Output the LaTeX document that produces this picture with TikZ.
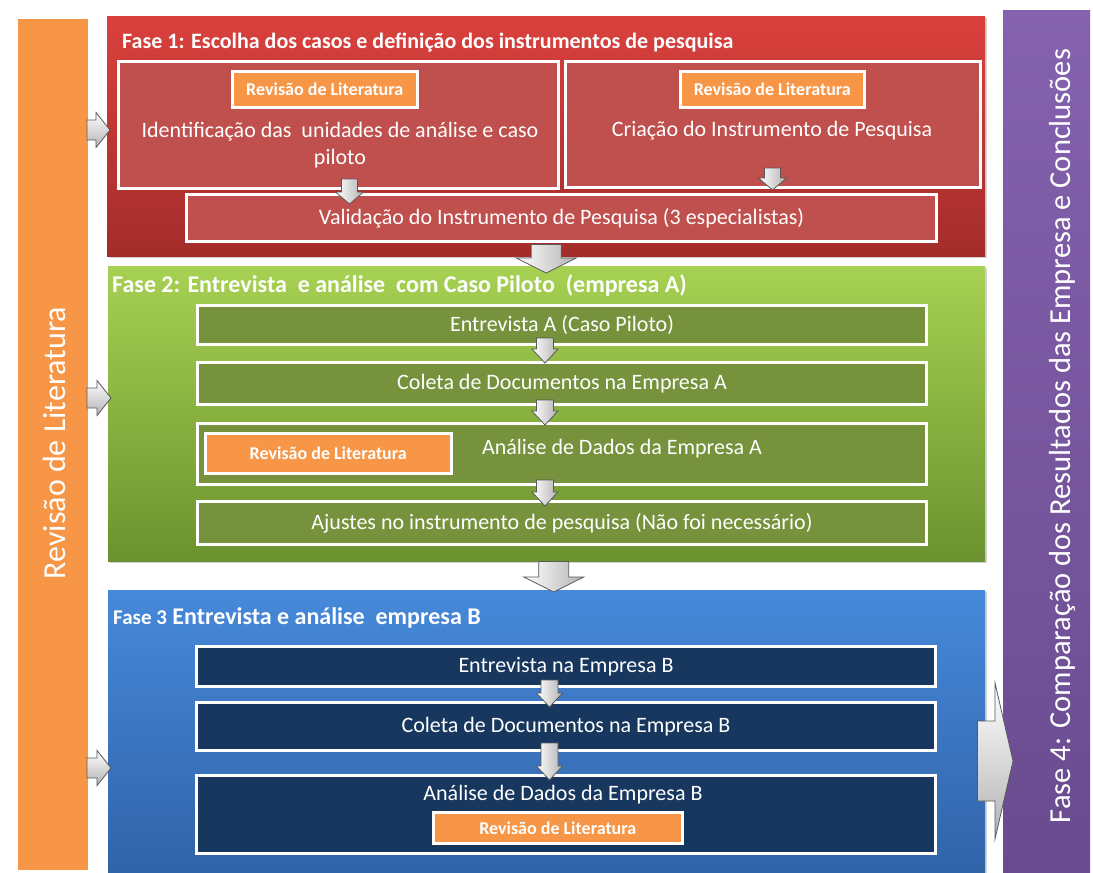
\documentclass[tikz,border=0pt]{standalone}
\usepackage{fontspec}
\setmainfont{Carlito}
\usetikzlibrary{positioning,calc,shadows}

\definecolor{litorange}{HTML}{F79646}
\definecolor{redtop}{HTML}{DA413D}
\definecolor{redbot}{HTML}{A32C2A}
\definecolor{redin}{HTML}{C0504D}
\definecolor{greentop}{HTML}{A6D152}
\definecolor{greenbot}{HTML}{6B922F}
\definecolor{greenin}{HTML}{76923C}
\definecolor{bluetop}{HTML}{4689DA}
\definecolor{bluebot}{HTML}{3163A8}
\definecolor{bluein}{HTML}{17375E}
\definecolor{purpletop}{HTML}{8462AE}
\definecolor{purplebot}{HTML}{6A4B8F}

\newcommand{\stepfont}{\fontsize{22}{27}\selectfont}
\newcommand{\revfont}{\fontsize{18}{21}\selectfont\bfseries}
\newcommand{\titlefont}{\fontsize{22}{25}\selectfont\bfseries}

% block arrows between boxes: from, to, shaft half width, head half width, head length
\newcommand{\blockdown}[5]{\path[bararrow] let \p1=(#1), \p2=(#2) in (\x1-#3,\y1) -- (\x1+#3,\y1) -- (\x1+#3,\y2+#5) -- (\x1+#4,\y2+#5) -- (\x1,\y2) -- (\x1-#4,\y2+#5) -- (\x1-#3,\y2+#5) -- cycle;}
\newcommand{\blockright}[5]{\path[sidearrow] let \p1=(#1), \p2=(#2) in (\x1,\y1+#3) -- (\x2-#5,\y1+#3) -- (\x2-#5,\y1+#4) -- (\x2,\y1) -- (\x2-#5,\y1-#4) -- (\x2-#5,\y1-#3) -- (\x1,\y1-#3) -- cycle;}

\begin{document}
\begin{tikzpicture}[x=1pt,y=-1pt,
  phase/.style={rectangle,inner sep=0pt,anchor=north west,drop shadow={shadow xshift=2pt,shadow yshift=-2pt,opacity=.35}},
  stepbox/.style={rectangle,inner sep=0pt,anchor=north west,draw=white,line width=3pt,text=white,font=\stepfont,drop shadow={shadow xshift=1.5pt,shadow yshift=-1.5pt,opacity=.3}},
  revbox/.style={rectangle,inner sep=0pt,anchor=north west,fill=litorange,draw=white,line width=2.5pt,text=white,font=\revfont},
  phasetitle/.style={anchor=base west,inner sep=0pt,text=white,font=\titlefont},
  steptext/.style={inner sep=0pt,text=white,font=\stepfont,align=center},
  sidetext/.style={inner sep=0pt,text=white,rotate=90,font=\fontsize{32}{36}\selectfont},
  bararrow/.style={draw=black!65,line width=.8pt,left color=white,right color=black!30},
  sidearrow/.style={draw=black!65,line width=.8pt,top color=white,bottom color=black!30}]
  \useasboundingbox (0,0) rectangle (1093,873);

  % side bars
  \node[rectangle,inner sep=0pt,anchor=north west,fill=litorange,draw=white,line width=4pt,
    minimum width=74pt,minimum height=855pt,drop shadow={opacity=.15,shadow xshift=1pt,shadow yshift=-1pt}] (litbar) at (14,15) {};
  \node[sidetext] (littext) at (55,443) {Revisão de Literatura};
  \node[rectangle,inner sep=0pt,anchor=north west,top color=purpletop,bottom color=purplebot,
    minimum width=87pt,minimum height=863pt] (fase4) at (1003,10) {};
  \node[sidetext,font=\fontsize{30.5}{34}\selectfont] (f4text) at (1062,436) {Fase 4: Comparação dos Resultados das Empresa e Conclusões};

  % fase 1
  \node[phase,top color=redtop,bottom color=redbot,minimum width=878pt,minimum height=240pt] (fase1) at (107,16) {};
  \node[phasetitle] (t1) at (122,48) {Fase 1: Escolha dos casos e definição dos instrumentos de pesquisa};
  \node[stepbox,fill=redin,minimum width=440pt,minimum height=127pt] (idbox) at (117,60) {};
  \node[stepbox,fill=redin,minimum width=415pt,minimum height=126pt] (crbox) at (564,60) {};
  \node[revbox,minimum width=185pt,minimum height=36pt] (rev1) at (231,70) {Revisão de Literatura};
  \node[revbox,minimum width=184pt,minimum height=36pt] (rev2) at (679,70) {Revisão de Literatura};
  \node[steptext] (idtext) at (340,145) {Identificação das\ \ unidades de análise e caso\\piloto};
  \node[steptext] (crtext) at (772,131) {Criação do Instrumento de Pesquisa};
  \node[stepbox,fill=redin,minimum width=750pt,minimum height=47pt] (valbox) at (185,193) {Validação do Instrumento de Pesquisa (3 especialistas)};

  % fase 2
  \node[phase,top color=greentop,bottom color=greenbot,minimum width=877pt,minimum height=295pt] (fase2) at (108,266) {};
  \node[phasetitle,font=\fontsize{24}{27}\selectfont\bfseries] (t2) at (112,292) {Fase 2: Entrevista\ \ e análise\ \ com Caso Piloto\ \ (empresa A)};
  \node[stepbox,fill=greenin,minimum width=729pt,minimum height=39pt] (entA) at (196,304) {Entrevista A (Caso Piloto)};
  \node[stepbox,fill=greenin,minimum width=729pt,minimum height=42pt] (colA) at (196,361) {Coleta de Documentos na Empresa A};
  \node[stepbox,fill=greenin,minimum width=729pt,minimum height=61pt] (anaA) at (196,422) {};
  \node[revbox,minimum width=246pt,minimum height=40pt] (rev3) at (204,432) {Revisão de Literatura};
  \node[steptext] (anaAtext) at (622,449) {Análise de Dados da Empresa A};
  \node[stepbox,fill=greenin,minimum width=729pt,minimum height=43pt] (ajuA) at (196,500) {Ajustes no instrumento de pesquisa (Não foi necessário)};

  % fase 3
  \node[phase,top color=bluetop,bottom color=bluebot,minimum width=877pt,minimum height=283pt] (fase3) at (108,590) {};
  \node[phasetitle,font=\fontsize{24}{27}\selectfont\bfseries] (t3) at (113,624) {{\fontsize{21}{24}\selectfont Fase 3} Entrevista e análise\ \ empresa B};
  \node[stepbox,fill=bluein,minimum width=739pt,minimum height=40pt] (entB) at (195,645) {Entrevista na Empresa B};
  \node[stepbox,fill=bluein,minimum width=739pt,minimum height=48pt] (colB) at (195,701) {Coleta de Documentos na Empresa B};
  \node[stepbox,fill=bluein,minimum width=739pt,minimum height=78pt] (anaB) at (195,774) {};
  \node[steptext] (anaBtext) at (563,795) {Análise de Dados da Empresa B};
  \node[revbox,minimum width=249pt,minimum height=31pt] (rev4) at (432,811) {Revisão de Literatura};

  % arrows inside fase 1
  \blockdown{[xshift=11pt,yshift=11pt]idbox.south}{[yshift=-11pt]valbox.north}{8pt}{14pt}{12pt}
  \blockdown{[xshift=-0.5pt,yshift=21pt]crbox.south}{[yshift=3pt]valbox.north}{8pt}{14pt}{12pt}
  % arrows between phases
  \blockdown{[yshift=12pt]fase1.south}{[yshift=-7pt]fase2.north}{15pt}{30pt}{15pt}
  \blockdown{[xshift=7pt,yshift=0pt]fase2.south}{[yshift=-2pt]fase3.north}{15pt}{30pt}{15pt}
  % arrows inside fase 2
  \blockdown{[xshift=-17pt,yshift=8pt]entA.south}{[yshift=-2pt]colA.north}{8.5pt}{13pt}{14pt}
  \blockdown{[xshift=-17pt,yshift=6pt]colA.south}{[yshift=-3pt]anaA.north}{8.5pt}{13pt}{14pt}
  \blockdown{[xshift=-17pt,yshift=6pt]anaA.south}{[yshift=-6pt]ajuA.north}{8.5pt}{13pt}{14pt}
  % arrows inside fase 3
  \blockdown{[xshift=-16.5pt,yshift=8pt]entB.south}{[yshift=-6pt]colB.north}{8.5pt}{13pt}{14pt}
  \blockdown{[xshift=-16.5pt,yshift=9pt]colB.south}{[yshift=-6pt]anaB.north}{8.5pt}{13pt}{14pt}
  % arrows from the literature bar
  \blockright{[xshift=-5pt]litbar.east |- 0,130}{[xshift=3pt]fase1.west |- 0,130}{10pt}{17.5pt}{14pt}
  \blockright{[xshift=-5pt]litbar.east |- 0,398}{[xshift=3pt]fase2.west |- 0,398}{10pt}{17.5pt}{14pt}
  \blockright{[xshift=-5pt]litbar.east |- 0,768}{[xshift=3pt]fase3.west |- 0,768}{10pt}{17.5pt}{14pt}
  % arrow to fase 4
  \blockright{[xshift=-8pt]fase3.east |- 0,761}{[xshift=10pt]fase4.west |- 0,761}{40pt}{78pt}{18pt}
\end{tikzpicture}
\end{document}
